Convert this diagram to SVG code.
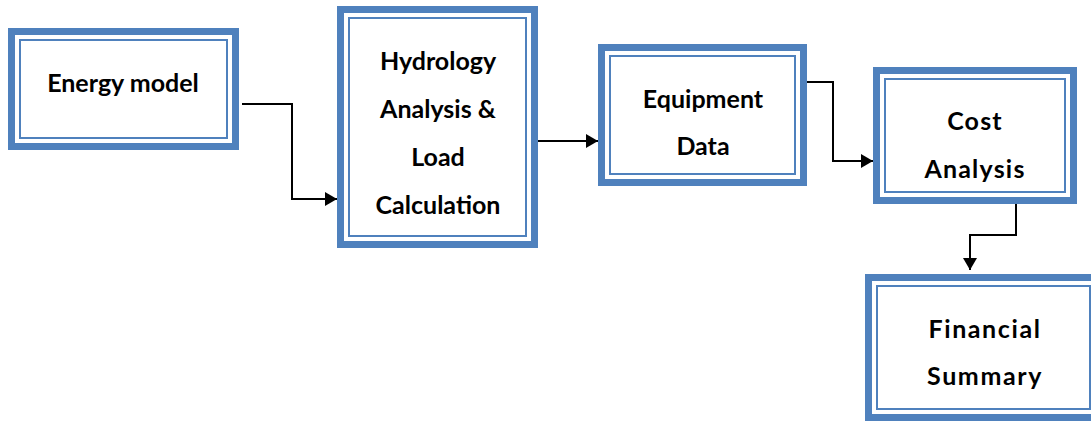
<svg xmlns="http://www.w3.org/2000/svg" width="1091" height="421" viewBox="0 0 1091 421">
<style>
.thick{fill:#ffffff;stroke:#4F81BD;stroke-width:7}
.thin{fill:none;stroke:#4F81BD;stroke-width:2}
.lbl{font-family:Lato,"Liberation Sans",sans-serif;font-weight:bold;font-size:25px;fill:#000000;text-anchor:middle}
.wide{letter-spacing:1.2px}
.wider{letter-spacing:1.6px}
.conn{fill:none;stroke:#000000;stroke-width:2}
</style>
<defs>
<marker id="arr" markerUnits="userSpaceOnUse" markerWidth="12" markerHeight="14" refX="12" refY="7" orient="auto">
<path d="M0,0 L12,7 L0,14 z" fill="#000000"/>
</marker>
</defs>
<rect width="1091" height="421" fill="#ffffff"/>
<g id="connectors">
<path class="conn" d="M242,104 H292 V199 H337" marker-end="url(#arr)"/>
<path class="conn" d="M531,141 H598" marker-end="url(#arr)"/>
<path class="conn" d="M786,82 H833 V161 H873" marker-end="url(#arr)"/>
<path class="conn" d="M1016,203 V235 H970 V270" marker-end="url(#arr)"/>
</g>
<g id="energy-model">
<rect class="thick" x="11.5" y="31.5" width="224" height="115"/>
<rect class="thin" x="20" y="40" width="207" height="98"/>
<text class="lbl" x="123" y="92">Energy model</text>
</g>
<g id="hydrology">
<rect class="thick" x="340.5" y="9.5" width="194" height="235"/>
<rect class="thin" x="349" y="18" width="177" height="218"/>
<text class="lbl" x="438" y="70">Hydrology</text>
<text class="lbl" x="438" y="118">Analysis &amp;</text>
<text class="lbl" x="438" y="166">Load</text>
<text class="lbl" x="438" y="214">Calculation</text>
</g>
<g id="equipment">
<rect class="thick" x="601.5" y="47.5" width="202" height="135"/>
<rect class="thin" x="610" y="56" width="185" height="118"/>
<text class="lbl" x="703" y="108">Equipment</text>
<text class="lbl" x="703" y="155">Data</text>
</g>
<g id="cost">
<rect class="thick" x="876.5" y="70.5" width="197" height="130"/>
<rect class="thin" x="885" y="79" width="180" height="113"/>
<text class="lbl wide" x="975" y="130">Cost</text>
<text class="lbl wide" x="975" y="178">Analysis</text>
</g>
<g id="financial">
<rect class="thick" x="868.5" y="277.5" width="240" height="140"/>
<rect class="thin" x="877" y="286" width="213" height="123"/>
<text class="lbl wider" x="985" y="338">Financial</text>
<text class="lbl wider" x="985" y="385">Summary</text>
</g>
</svg>
